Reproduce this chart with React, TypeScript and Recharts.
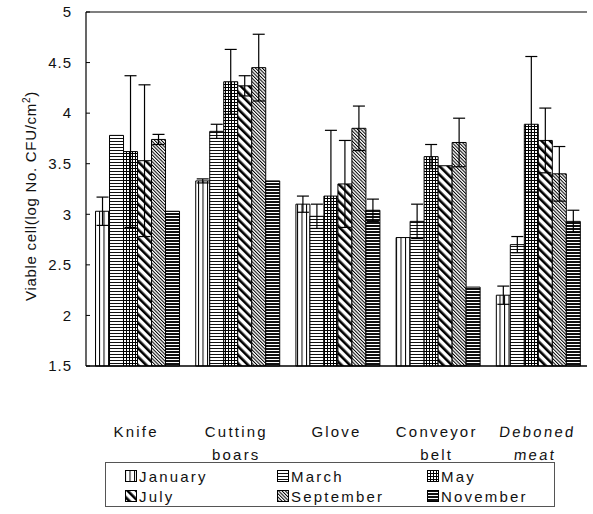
import { BarChart, Bar, XAxis, YAxis, ErrorBar, Legend, ReferenceLine } from 'recharts'

const categories = ['Knife', 'Cutting boars', 'Glove', 'Conveyor belt', 'Deboned meat']
const months = ['January', 'March', 'May', 'July', 'September', 'November']
const yTicks = [1.5, 2, 2.5, 3, 3.5, 4, 4.5, 5]

// bar means per category (Knife, Cutting boars, Glove, Conveyor belt, Deboned meat)
const january = [3.03, 3.33, 3.1, 2.77, 2.2]
const march = [3.78, 3.82, 2.98, 2.93, 2.7]
const may = [3.62, 4.31, 3.18, 3.57, 3.89]
const july = [3.53, 4.27, 3.3, 3.48, 3.73]
const september = [3.74, 4.45, 3.85, 3.71, 3.4]
const november = [3.03, 3.33, 3.04, 2.28, 2.93]

// standard deviations
const januaryErr = [0.14, 0.02, 0.08, 0, 0.09]
const marchErr = [0, 0.07, 0.12, 0.17, 0.08]
const mayErr = [0.75, 0.32, 0.65, 0.12, 0.67]
const julyErr = [0.75, 0.1, 0.43, 0, 0.32]
const septemberErr = [0.05, 0.33, 0.22, 0.24, 0.27]
const novemberErr = [0, 0, 0.11, 0, 0.11]

const patterns = ['p-jan', 'p-mar', 'p-may', 'p-jul', 'p-sep', 'p-nov']
const values = [january, march, may, july, september, november]
const errors = [januaryErr, marchErr, mayErr, julyErr, septemberErr, novemberErr]

const series = months.map((m, i) => ({ name: m, values: values[i], err: errors[i], pattern: patterns[i] }))

const data = categories.map((c, i) => {
  const row: Record<string, any> = { name: c }
  series.forEach(s => {
    row[s.name] = s.values[i]
    row[s.name + 'Err'] = s.err[i]
  })
  return row
})

const font = '"Liberation Sans", Arial, sans-serif'

function CategoryTick(props: any) {
  const { x, y, payload } = props
  const lines = String(payload.value).split(' ')
  // the last category is printed slanted in the original
  const slant = payload.value === 'Deboned meat' ? -6 : 0
  return (
    <g transform={`translate(${x}, ${y + 71}) skewX(${slant})`}>
      <text x={0} y={0} textAnchor="middle" fontSize={15} fill="#111" fontFamily={font} letterSpacing={2.2}>
        {lines.map((l, i) => (
          <tspan key={i} x={0} dy={i === 0 ? 0 : 23}>{l}</tspan>
        ))}
      </text>
    </g>
  )
}

function YLabel() {
  return (
    <text
      x={0}
      y={0}
      transform="translate(36, 196) rotate(-90)"
      textAnchor="middle"
      fontSize={15}
      fill="#111"
      fontFamily={font}
      letterSpacing={0.7}
    >
      Viable cell(log No. CFU/cm<tspan dy={-6} fontSize={10}>2</tspan><tspan dy={6}>)</tspan>
    </text>
  )
}

function LegendBox() {
  return (
    <div
      style={{
        width: 450,
        height: 45,
        border: '1px solid #555',
        boxSizing: 'border-box',
        display: 'grid',
        gridTemplateColumns: '152px 150px 146px',
        paddingLeft: 19,
        paddingTop: 3,
        fontFamily: font,
        fontSize: 15,
        letterSpacing: 2.2,
        color: '#111',
        lineHeight: '19px',
      }}
    >
      {series.map(s => (
        <div key={s.name} style={{ display: 'flex', alignItems: 'center' }}>
          <svg width={12} height={12} style={{ marginRight: 2 }}>
            <rect x={0.5} y={0.5} width={11} height={11} fill={`url(#${s.pattern})`} stroke="#000" />
          </svg>
          {s.name}
        </div>
      ))}
    </div>
  )
}

export default function App() {
  return (
    <div style={{ position: 'absolute', left: 0, top: 0, background: '#fff' }}>
      <BarChart
        width={593}
        height={514}
        data={data}
        margin={{ top: 12, right: 6, left: 0, bottom: 0 }}
        barCategoryGap="9.5%"
        barGap={0}
      >
        <defs>
          <pattern id="p-jan" width={4.5} height={4} patternUnits="userSpaceOnUse">
            <rect width={4.5} height={4} fill="#fff" />
            <rect x={0} width={1} height={4} fill="#000" />
          </pattern>
          <pattern id="p-mar" width={4} height={3} patternUnits="userSpaceOnUse">
            <rect width={4} height={3} fill="#fff" />
            <rect y={0} width={4} height={1} fill="#111" />
          </pattern>
          <pattern id="p-may" width={3} height={3} patternUnits="userSpaceOnUse">
            <rect width={3} height={3} fill="#fff" />
            <rect y={0} width={3} height={1} fill="#000" />
            <rect x={0} width={1} height={3} fill="#000" />
          </pattern>
          <pattern id="p-jul" width={6} height={6} patternUnits="userSpaceOnUse" patternTransform="rotate(-45)">
            <rect width={6} height={6} fill="#fff" />
            <rect x={0} width={2.6} height={6} fill="#000" />
          </pattern>
          <pattern id="p-sep" width={2.4} height={2.4} patternUnits="userSpaceOnUse" patternTransform="rotate(-45)">
            <rect width={2.4} height={2.4} fill="#fff" />
            <rect x={0} width={1} height={2.4} fill="#000" />
          </pattern>
          <pattern id="p-nov" width={4} height={3} patternUnits="userSpaceOnUse">
            <rect width={4} height={3} fill="#fff" />
            <rect y={0} width={4} height={2} fill="#111" />
          </pattern>
        </defs>
        <XAxis
          dataKey="name"
          height={148}
          tickSize={0}
          tickMargin={0}
          tickLine={false}
          axisLine={{ stroke: '#000', strokeWidth: 1.5 }}
          tick={<CategoryTick />}
          interval={0}
        />
        <YAxis
          type="number"
          domain={[1.5, 5]}
          ticks={yTicks}
          width={86}
          tickSize={-4}
          tickMargin={18}
          axisLine={{ stroke: '#000', strokeWidth: 1.2 }}
          tickLine={{ stroke: '#000' }}
          tick={{ fontSize: 15, fill: '#111', fontFamily: font, letterSpacing: 1 }}
          label={<YLabel />}
        />
        <ReferenceLine y={5} stroke="#000" strokeWidth={1.2} />
        {series.map(s => (
          <Bar
            key={s.name}
            dataKey={s.name}
            fill={`url(#${s.pattern})`}
            stroke="#000"
            strokeWidth={1}
            isAnimationActive={false}
          >
            <ErrorBar dataKey={s.name + 'Err'} width={6} stroke="#000" strokeWidth={1.2} direction="y" />
          </Bar>
        ))}
        <Legend
          layout="vertical"
          verticalAlign="middle"
          align="center"
          wrapperStyle={{ left: 105, top: 462, width: 450 }}
          content={<LegendBox />}
        />
      </BarChart>
    </div>
  )
}
